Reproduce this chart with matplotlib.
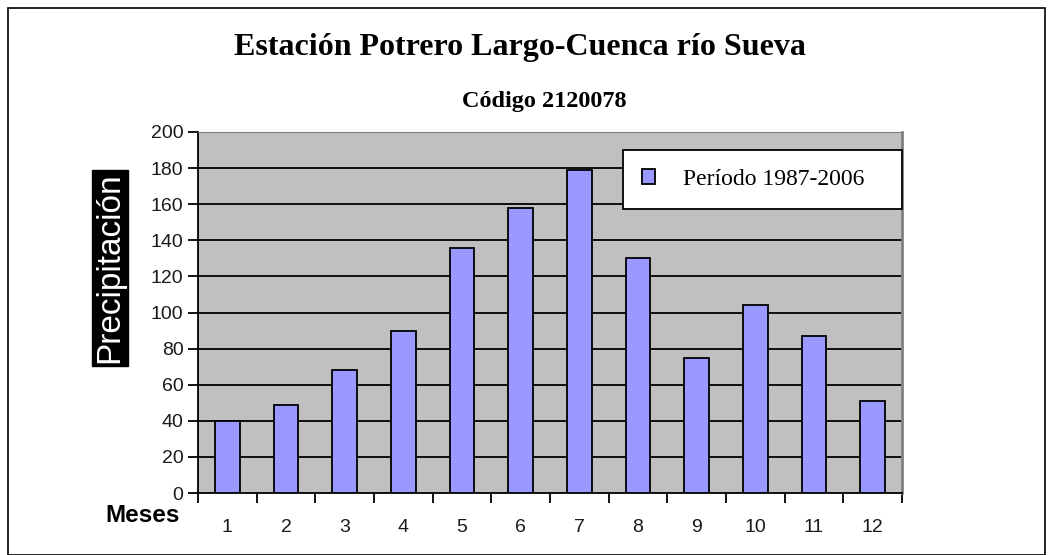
import numpy as np
import matplotlib
matplotlib.use('Agg')
import matplotlib.pyplot as plt
from matplotlib.patches import Rectangle

meses = ['1', '2', '3', '4', '5', '6', '7', '8', '9', '10', '11', '12']
precip = [40, 49, 68, 90, 136, 158, 179, 130, 75, 104, 87, 51]
yticks = [0, 20, 40, 60, 80, 100, 120, 140, 160, 180, 200]

fig = plt.figure(figsize=(10.53, 5.55), dpi=100)
W, H = 1053, 555
# outer frame
fig.patches.append(Rectangle((8 / W, 0), 1037 / W, 547 / H, transform=fig.transFigure,
                             fill=False, edgecolor='black', linewidth=1.2))

ax = fig.add_axes([198 / W, (H - 493) / H, 704 / W, 361 / H])
ax.set_facecolor('#c0c0c0')
x = np.arange(len(meses))
ax.bar(x, precip, width=0.42, color='#9999ff', edgecolor='black', linewidth=1.3,
       label='Período 1987-2006', zorder=3)
ax.set_xlim(-0.5, len(meses) - 0.5)
ax.set_ylim(0, 200)
ax.set_yticks(yticks)
for v in yticks[1:]:
    ax.axhline(v, color='black', linewidth=1.3, zorder=1)
ax.set_xticks(np.arange(-0.5, len(meses)), minor=False)
ax.set_xticklabels([])
ax.set_xticks(x, minor=True)
ax.set_xticklabels(meses, minor=True, fontsize=14, family='Liberation Sans', color='#1a1a1a')
ax.tick_params(axis='x', which='major', direction='out', length=7, width=1.3)
ax.tick_params(axis='x', which='minor', length=0, pad=19)
ax.tick_params(axis='y', direction='out', length=7, width=1.3, labelsize=14,
               labelcolor='#1a1a1a')
for lab in ax.get_yticklabels():
    lab.set_family('Liberation Sans')
ax.spines['left'].set_linewidth(1.3)
ax.spines['bottom'].set_linewidth(1.3)
ax.spines['top'].set_color('#808080')
ax.spines['right'].set_color('#808080')
ax.spines['right'].set_linewidth(2)

leg = ax.legend(loc='upper left', bbox_to_anchor=(425 / 704, (493 - 209) / 361, 279 / 704, 59 / 361),
                mode='expand', borderaxespad=0, fancybox=False,
                framealpha=1, edgecolor='black', borderpad=0.8, handlelength=0.55,
                handleheight=0.55, handletextpad=1.2,
                prop={'family': 'Liberation Serif', 'size': 17})
leg.get_frame().set_linewidth(1.3)

fig.text(520 / W, 1 - 48 / H, 'Estación Potrero Largo-Cuenca río Sueva', ha='center', va='center',
         family='Liberation Serif', weight='bold', fontsize=23)
fig.text(544 / W, 1 - 102 / H, 'Código 2120078', ha='center', va='center',
         family='Liberation Serif', weight='bold', fontsize=17.5)
fig.text(143 / W, 1 - 516 / H, 'Meses', ha='center', va='center',
         family='Liberation Sans', weight='bold', fontsize=17.5)
fig.text(110 / W, 1 - 268 / H, 'Precipitación', ha='center', va='center', rotation=90,
         family='Liberation Sans', color='white', fontsize=24,
         bbox=dict(facecolor='black', edgecolor='black', pad=2))

fig.savefig('out.png', dpi=100)
